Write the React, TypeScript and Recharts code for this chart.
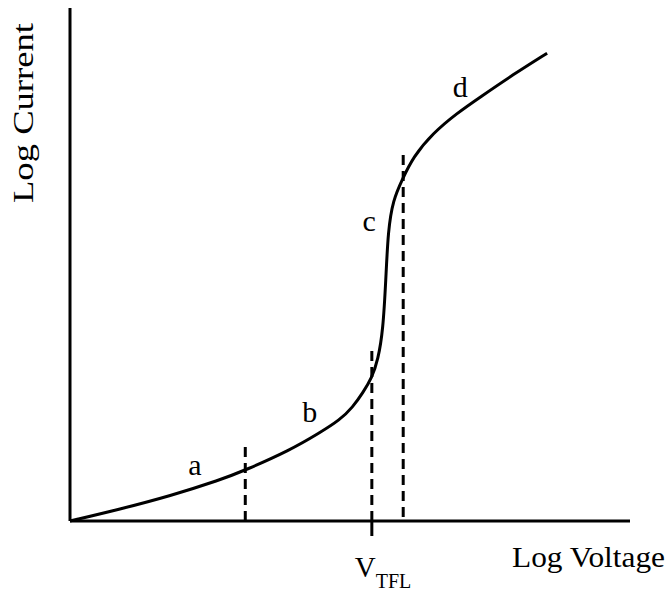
import { LineChart, Line, XAxis, YAxis, ReferenceLine, ReferenceDot } from 'recharts';

// schematic I-V curve, both axes in arbitrary log units (0..10)
const logVoltage = [0, 0.89, 1.79, 2.68, 3.13, 3.93, 4.46, 4.82, 5.05, 5.23, 5.39, 5.5, 5.59, 5.64, 5.68, 5.77, 5.93, 6.13, 6.48, 6.91, 7.32, 7.91, 8.52];
const logCurrent = [0, 0.23, 0.49, 0.8, 0.99, 1.38, 1.72, 1.97, 2.22, 2.5, 2.79, 3.14, 3.72, 4.7, 5.67, 6.26, 6.65, 7.1, 7.56, 7.95, 8.26, 8.7, 9.12];

const xTicks = [5.39];
const regionNames = ['a', 'b', 'c', 'd'];
const regionX = [2.23, 4.28, 5.34, 6.97];
const regionY = [0.9, 1.93, 5.65, 8.27];

// dashed boundaries: [x, yFrom, yTo]
const boundaryX = [3.13, 5.39, 5.95];
const boundaryFrom = [0, 0, 0.08];
const boundaryTo = [1.52, 3.37, 7.23];

const FONT = 'Liberation Serif, Times New Roman, serif';

const data = logVoltage.map((v, i) => ({ v, i: logCurrent[i] }));

const VTick = (props: any) => {
    const { x, y } = props;
    return (
        <text x={x - 17} y={y + 39} fontFamily={FONT} fontSize={29} fill="#000">
            V
            <tspan fontSize={20} dy={11}>TFL</tspan>
        </text>
    );
};

export default function App() {
    return (
        <div style={{ position: 'absolute', left: 0, top: 0, background: '#fff' }}>
            <LineChart width={667} height={592} data={data} margin={{ top: 8, right: 37, bottom: 41, left: 10 }}>
                <XAxis
                    dataKey="v"
                    type="number"
                    domain={[0, 10]}
                    ticks={xTicks}
                    height={30}
                    axisLine={{ stroke: '#000', strokeWidth: 3 }}
                    tickLine={{ stroke: '#000', strokeWidth: 3 }}
                    tickSize={15}
                    tick={<VTick />}
                    label={{
                        content: (p: any) => (
                            <text
                                x={p.viewBox.x + p.viewBox.width + 35}
                                y={567}
                                textAnchor="end"
                                fontFamily={FONT}
                                fontSize={30}
                                textLength={153}
                                lengthAdjust="spacingAndGlyphs"
                                fill="#000"
                            >
                                Log Voltage
                            </text>
                        ),
                    }}
                />
                <YAxis
                    type="number"
                    domain={[0, 10]}
                    width={60}
                    tick={false}
                    tickLine={false}
                    axisLine={{ stroke: '#000', strokeWidth: 3 }}
                    label={{
                        content: () => (
                            <text
                                x={33}
                                y={113}
                                transform="rotate(-90 33 113)"
                                textAnchor="middle"
                                fontFamily={FONT}
                                fontSize={30}
                                textLength={180}
                                lengthAdjust="spacingAndGlyphs"
                                fill="#000"
                            >
                                Log Current
                            </text>
                        ),
                    }}
                />
                {boundaryX.map((bx, k) => (
                    <ReferenceLine
                        key={`b-${k}`}
                        segment={[{ x: bx, y: boundaryFrom[k] }, { x: bx, y: boundaryTo[k] }]}
                        stroke="#000"
                        strokeWidth={3}
                        strokeDasharray="10 6"
                    />
                ))}
                <Line
                    type="basis"
                    dataKey="i"
                    stroke="#000"
                    strokeWidth={3}
                    dot={false}
                    isAnimationActive={false}
                />
                {regionNames.map((name, k) => (
                    <ReferenceDot
                        key={name}
                        x={regionX[k]}
                        y={regionY[k]}
                        r={0}
                        shape={(p: any) => (
                            <text x={p.cx} y={p.cy} textAnchor="middle" fontFamily={FONT} fontSize={30} fill="#000">
                                {name}
                            </text>
                        )}
                    />
                ))}
            </LineChart>
        </div>
    );
}
